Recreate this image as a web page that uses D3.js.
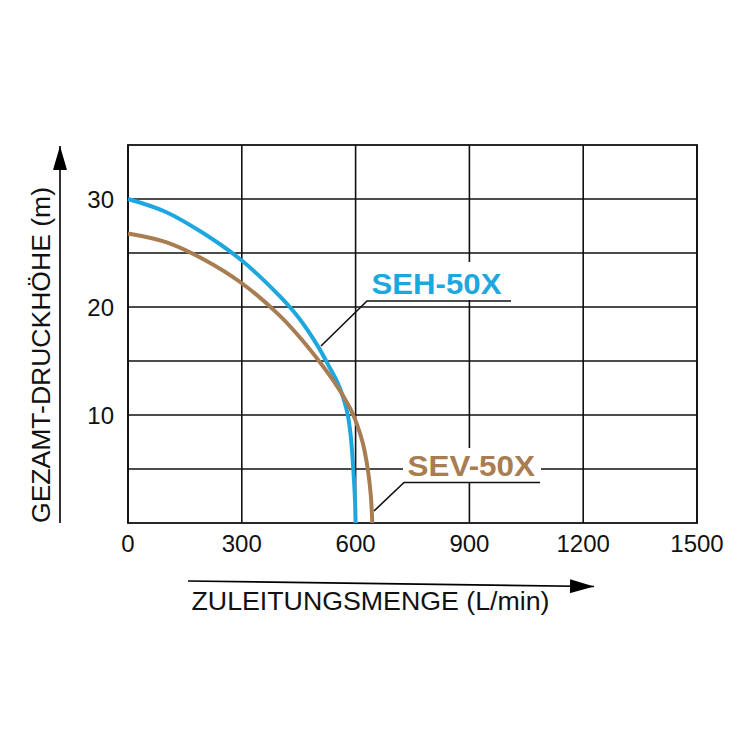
<!DOCTYPE html>
<html>
<head>
<meta charset="utf-8">
<script src="https://cdn.jsdelivr.net/npm/d3@7"></script>
<style>
  html, body { margin: 0; padding: 0; background: #fff; }
  svg { display: block; }
  text { font-family: "Liberation Sans", Arial, Helvetica, sans-serif; }
</style>
</head>
<body>
<svg id="chart" width="750" height="750"></svg>
<script>
// ---- data ----
const flowTicks = [0, 300, 600, 900, 1200, 1500];
const headGrid = [5, 10, 15, 20, 25, 30];
const headTickLabels = [10, 20, 30];

const sehFlow = [0, 100, 200, 300, 400, 450, 500, 530, 555, 570, 580, 587, 592, 596, 598.5, 600];
const sehHead = [30, 28.8, 26.8, 24.3, 21.0, 19.0, 16.4, 14.5, 12.8, 11.3, 9.9, 8.1, 6.0, 3.8, 2.0, 0];

const sevFlow = [0, 100, 200, 300, 400, 460, 510, 545, 570, 590, 605, 619, 632, 640, 644];
const sevHead = [26.8, 26.0, 24.4, 22.2, 19.2, 16.9, 14.7, 13.0, 11.6, 10.3, 9.0, 7.4, 5.0, 2.6, 0];

const seriesNames = ["SEH-50X", "SEV-50X"];
const xTitle = "ZULEITUNGSMENGE (L/min)";
const yTitle = "GEZAMT-DRUCKHÖHE (m)";

// ---- layout ----
const svg = d3.select("#chart");
const x = d3.scaleLinear().domain([0, 1500]).range([128, 697]);
const y = d3.scaleLinear().domain([0, 35]).range([523, 145]);
const blue = "#1ea7df";
const brown = "#a97d52";
const ink = "#111";

// grid
const g = svg.append("g");
g.selectAll("line.v").data(flowTicks).join("line")
  .attr("x1", d => x(d)).attr("x2", d => x(d))
  .attr("y1", y(35)).attr("y2", y(0))
  .attr("stroke", ink).attr("stroke-width", 1.6);
g.selectAll("line.h").data(headGrid).join("line")
  .attr("x1", x(0)).attr("x2", x(1500))
  .attr("y1", d => y(d)).attr("y2", d => y(d))
  .attr("stroke", ink).attr("stroke-width", 1.6);
g.append("rect")
  .attr("x", x(0)).attr("y", y(35))
  .attr("width", x(1500) - x(0)).attr("height", y(0) - y(35))
  .attr("fill", "none").attr("stroke", ink).attr("stroke-width", 1.8);

// tick labels
svg.selectAll("text.xt").data(flowTicks).join("text")
  .attr("x", d => x(d)).attr("y", 552)
  .attr("text-anchor", "middle")
  .attr("font-size", 24).attr("fill", "#111")
  .text(d => d);
svg.selectAll("text.yt").data(headTickLabels).join("text")
  .attr("x", 114).attr("y", d => y(d) + 8.5)
  .attr("text-anchor", "end")
  .attr("font-size", 24).attr("fill", "#111")
  .text(d => d);

// curves
const line = d3.line()
  .x(d => x(d[0])).y(d => y(d[1]))
  .curve(d3.curveCatmullRom.alpha(0.5));
const seh = sehFlow.map((f, i) => [f, sehHead[i]]);
const sev = sevFlow.map((f, i) => [f, sevHead[i]]);
svg.append("path").attr("d", line(seh))
  .attr("fill", "none").attr("stroke", blue).attr("stroke-width", 4);
svg.append("path").attr("d", line(sev))
  .attr("fill", "none").attr("stroke", brown).attr("stroke-width", 4);

// series labels with white backgrounds and leader lines
function label(name, color, bx, by, bw, bh, tx, ty, tw, ux1, ux2, uy, lx, ly) {
  svg.append("rect").attr("x", bx).attr("y", by).attr("width", bw).attr("height", bh).attr("fill", "#fff");
  svg.append("text").attr("x", tx).attr("y", ty)
    .attr("font-size", 29).attr("font-weight", "bold").attr("fill", color)
    .attr("textLength", tw).attr("lengthAdjust", "spacingAndGlyphs")
    .text(name);
  svg.append("polyline")
    .attr("points", `${ux2},${uy} ${ux1},${uy} ${lx},${ly}`)
    .attr("fill", "none").attr("stroke", ink).attr("stroke-width", 1.6);
}
label(seriesNames[0], blue, 365, 262, 147, 38, 371.5, 293.5, 130, 367, 511, 301, 321, 346);
label(seriesNames[1], brown, 403, 448, 138, 34, 407.5, 476, 127.5, 404, 540, 482.5, 374, 511);

// axis arrows
const defs = svg.append("defs");
defs.append("marker").attr("id", "arrow")
  .attr("viewBox", "0 0 24 14").attr("refX", 24).attr("refY", 7)
  .attr("markerWidth", 24).attr("markerHeight", 14)
  .attr("markerUnits", "userSpaceOnUse").attr("orient", "auto")
  .append("path").attr("d", "M0,0 L24,7 L0,14 Z").attr("fill", "#000");

svg.append("line").attr("x1", 60).attr("y1", 523).attr("x2", 60).attr("y2", 146)
  .attr("stroke", "#000").attr("stroke-width", 1.6).attr("marker-end", "url(#arrow)");
svg.append("line").attr("x1", 188).attr("y1", 581).attr("x2", 594).attr("y2", 586.5)
  .attr("stroke", "#000").attr("stroke-width", 1.6).attr("marker-end", "url(#arrow)");

// axis titles
svg.append("text").attr("x", 191.5).attr("y", 610)
  .attr("font-size", 25).attr("fill", "#111")
  .attr("textLength", 358).attr("lengthAdjust", "spacingAndGlyphs")
  .text(xTitle);
svg.append("text")
  .attr("transform", "translate(49.5,523) rotate(-90)")
  .attr("font-size", 25).attr("fill", "#111")
  .attr("textLength", 336).attr("lengthAdjust", "spacingAndGlyphs")
  .text(yTitle);
</script>
</body>
</html>
